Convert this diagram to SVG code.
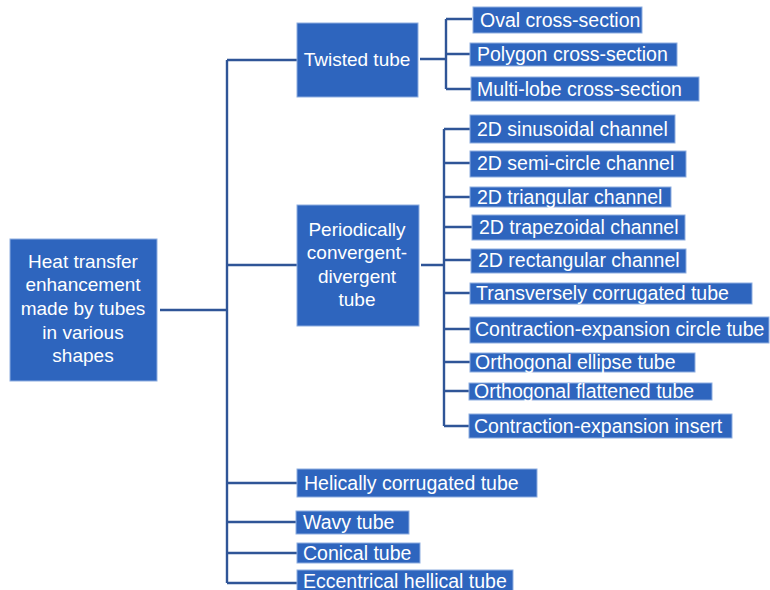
<svg xmlns="http://www.w3.org/2000/svg" width="770" height="590" viewBox="0 0 770 590">
<style>
.b{fill:#2E65BE;stroke:#8EAEE0;stroke-width:1}
.t{font-family:"Liberation Sans",Arial,sans-serif;font-size:19.5px;fill:#FFFFFF}
.c{text-anchor:middle;font-size:19px}
.l{fill:none;stroke:#2F5597;stroke-width:2.4}
</style>
<rect width="770" height="590" fill="#FFFFFF"/>
<g id="connectors">
<path class="l" d="M160,310 H227 M227,60 V583 M227,60 H297 M227,265 H297 M227,483 H297 M227,522 H297 M227,553 H297 M227,583 H297"/>
<path class="l" d="M420,59 H446 M446,19 V89 M446,19 H472 M446,54 H470 M446,89 H471"/>
<path class="l" d="M421,265 H444 M444,129 V426 M444,129 H470 M444,163 H470 M444,197 H470 M444,227 H472 M444,260 H471 M444,293 H470 M444,329 H470 M444,362 H470 M444,391 H469 M444,426 H469"/>
</g>
<g id="root"><rect class="b" x="10" y="239" width="147" height="142"/>
<text class="t c" x="83" y="268">Heat transfer</text>
<text class="t c" x="83" y="291">enhancement</text>
<text class="t c" x="83" y="315">made by tubes</text>
<text class="t c" x="83" y="339">in various</text>
<text class="t c" x="83" y="362">shapes</text></g>
<g id="twisted"><rect class="b" x="297" y="23" width="121" height="74"/><text class="t c" x="357" y="66">Twisted tube</text></g>
<g id="oval"><rect class="b" x="473" y="7" width="169" height="26"/><text class="t" x="480" y="27">Oval cross-section</text></g>
<g id="polygon"><rect class="b" x="470" y="43" width="207" height="23"/><text class="t" x="477" y="61">Polygon cross-section</text></g>
<g id="multilobe"><rect class="b" x="471" y="77" width="228" height="24"/><text class="t" x="477" y="96">Multi-lobe cross-section</text></g>
<g id="periodic"><rect class="b" x="297" y="205" width="122" height="121"/>
<text class="t c" x="357" y="236">Periodically</text>
<text class="t c" x="357" y="259">convergent-</text>
<text class="t c" x="357" y="283">divergent</text>
<text class="t c" x="357" y="306">tube</text></g>
<g id="sinus"><rect class="b" x="470" y="115" width="205" height="28"/><text class="t" x="477" y="136">2D sinusoidal channel</text></g>
<g id="semicircle"><rect class="b" x="470" y="151" width="216" height="26"/><text class="t" x="477" y="170">2D semi-circle channel</text></g>
<g id="triangular"><rect class="b" x="470" y="187" width="201" height="20"/><text class="t" x="477" y="204">2D triangular channel</text></g>
<g id="trapezoidal"><rect class="b" x="472" y="215" width="213" height="25"/><text class="t" x="479" y="234">2D trapezoidal channel</text></g>
<g id="rectangular"><rect class="b" x="471" y="249" width="215" height="24"/><text class="t" x="478" y="267">2D rectangular channel</text></g>
<g id="transverse"><rect class="b" x="470" y="283" width="282" height="21"/><text class="t" x="476" y="300">Transversely corrugated tube</text></g>
<g id="cecircle"><rect class="b" x="470" y="317" width="299" height="26"/><text class="t" x="475" y="336">Contraction-expansion circle tube</text></g>
<g id="ellipse"><rect class="b" x="470" y="353" width="225" height="19"/><text class="t" x="475" y="369">Orthogonal ellipse tube</text></g>
<g id="flattened"><rect class="b" x="469" y="383" width="243" height="17"/><text class="t" x="474" y="398">Orthogonal flattened tube</text></g>
<g id="insert"><rect class="b" x="469" y="414" width="263" height="24"/><text class="t" x="474" y="433">Contraction-expansion insert</text></g>
<g id="helical"><rect class="b" x="297" y="469" width="240" height="28"/><text class="t" x="304" y="490">Helically corrugated tube</text></g>
<g id="wavy"><rect class="b" x="296" y="511" width="113" height="23"/><text class="t" x="303" y="529">Wavy tube</text></g>
<g id="conical"><rect class="b" x="297" y="543" width="123" height="20"/><text class="t" x="303" y="560">Conical tube</text></g>
<g id="eccentric"><rect class="b" x="297" y="570" width="216" height="25"/><text class="t" x="303" y="588">Eccentrical hellical tube</text></g>
</svg>
